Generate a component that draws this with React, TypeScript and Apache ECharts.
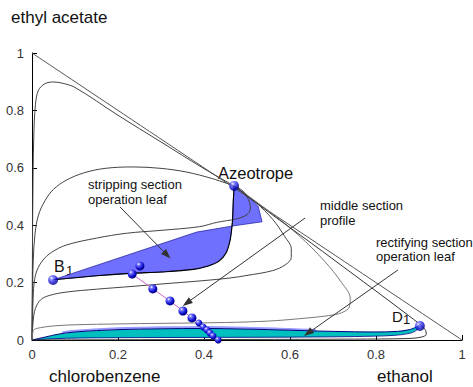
import React, { useEffect, useRef } from "react";
import * as echarts from "echarts";

const hypotenuse = [[0, 1], [1, 0]];

const curveTop = [[0.47,0.537],[0.4,0.597],[0.3,0.69],[0.2,0.783],[0.1,0.88],[0.07,0.895],[0.05,0.899],[0.03,0.893],[0.015,0.87],[0.008,0.82],[0.004,0.7],[0.002,0.5],[0.001,0.3],[0,0]];
const curveArc = [[0.47,0.537],[0.42,0.562],[0.36,0.585],[0.3,0.598],[0.235,0.603],[0.17,0.598],[0.12,0.582],[0.08,0.557],[0.05,0.525],[0.03,0.485],[0.015,0.435],[0.007,0.37],[0.003,0.28],[0.001,0.15],[0,0]];
const curveInner = [[0.47,0.537],[0.49,0.52],[0.503,0.49],[0.508,0.46],[0.5,0.437],[0.475,0.422],[0.43,0.41],[0.39,0.395],[0.3,0.382],[0.22,0.372],[0.15,0.355],[0.08,0.331],[0.045,0.305],[0.026,0.279],[0.012,0.244],[0.005,0.2],[0.002,0.12],[0,0]];
const curveMid = [[0.47,0.537],[0.52,0.48],[0.56,0.42],[0.588,0.36],[0.603,0.318],[0.603,0.288],[0.59,0.263],[0.56,0.242],[0.5,0.225],[0.46,0.216],[0.4,0.207],[0.3,0.195],[0.235,0.187],[0.15,0.177],[0.08,0.167],[0.04,0.155],[0.02,0.14],[0.008,0.11],[0.003,0.07],[0,0]];
const curveLow = [[0.47,0.537],[0.55,0.45],[0.62,0.365],[0.68,0.275],[0.72,0.2],[0.74,0.145],[0.738,0.115],[0.72,0.095],[0.69,0.085],[0.62,0.074],[0.55,0.066],[0.45,0.061],[0.3,0.058],[0.2,0.056],[0.1,0.053],[0.05,0.049],[0.02,0.043],[0.005,0.036],[0.001,0.02],[0,0]];
const curveOuter = [[0.47,0.537],[0.55,0.446],[0.65,0.337],[0.75,0.226],[0.83,0.137],[0.875,0.086],[0.9,0.057],[0.914,0.037],[0.917,0.02],[0.905,0.01],[0.87,0.005],[0.75,0.003],[0.5,0.002],[0.25,0.001],[0,0]];

const stripLeaf = [[0.47,0.537],[0.5,0.505],[0.526,0.465],[0.535,0.412],[0.47,0.398],[0.383,0.376],[0.05,0.21],[0.15,0.224],[0.235,0.233],[0.3,0.237],[0.375,0.246],[0.41,0.258],[0.435,0.275],[0.452,0.305],[0.461,0.35],[0.466,0.41],[0.468,0.48]];
const stripEdge = [[0.47,0.537],[0.468,0.48],[0.466,0.41],[0.461,0.35],[0.452,0.305],[0.435,0.275],[0.41,0.258],[0.375,0.246],[0.3,0.237],[0.235,0.233],[0.15,0.224],[0.05,0.21]];

const rectUpper = [[0,0],[0.03,0.01],[0.06,0.02],[0.1,0.028],[0.2,0.036],[0.3,0.039],[0.4,0.04],[0.5,0.038],[0.6,0.034],[0.7,0.03],[0.8,0.028],[0.85,0.03],[0.88,0.037],[0.9,0.05]];
const rectLower = [[0.9,0.05],[0.895,0.035],[0.88,0.024],[0.84,0.016],[0.75,0.012],[0.6,0.01],[0.4,0.009],[0.2,0.008],[0.08,0.006],[0.02,0.002],[0,0]];
const rectBandTop = [[0.07,0.026],[0.1,0.032],[0.2,0.041],[0.3,0.044],[0.4,0.045],[0.5,0.043],[0.6,0.038],[0.66,0.035]];

const middleProfile = [[0.251,0.258],[0.233,0.23],[0.281,0.178],[0.321,0.136],[0.351,0.101],[0.372,0.077],[0.388,0.059],[0.398,0.045],[0.407,0.035],[0.414,0.024],[0.421,0.014],[0.433,0.0]];
const keyPoints = [[0.049,0.209],[0.47,0.537],[0.902,0.049]];

const arrows = [
  [[0.205,0.463],[0.314,0.296]],
  [[0.635,0.425],[0.36,0.129]],
  [[0.851,0.244],[0.642,0.024]],
];

const FONT = "Liberation Sans, Arial, sans-serif";

function polygonSeries(points: number[][], fill: string, stroke: string, lw: number, z: number) {
  return {
    type: "custom",
    coordinateSystem: "cartesian2d",
    data: [points[0]],
    z,
    silent: true,
    renderItem: (params: any, api: any) => {
      const pts = points.map((p) => api.coord(p));
      return {
        type: "polygon",
        shape: { points: pts },
        style: { fill, stroke, lineWidth: lw },
      };
    },
  };
}

function curve(data: number[][], color = "#444", width = 1, z = 3) {
  return {
    type: "line",
    data,
    smooth: 0.35,
    showSymbol: false,
    symbol: "none",
    lineStyle: { color, width },
    z,
    silent: true,
  };
}

export default function App() {
  const ref = useRef<HTMLDivElement>(null);
  useEffect(() => {
    if (!ref.current) return;
    const chart = echarts.init(ref.current, undefined, { renderer: "svg" });
    const sphere = new echarts.graphic.RadialGradient(0.35, 0.3, 0.7, [
      { offset: 0, color: "#ffffff" },
      { offset: 0.25, color: "#7070ff" },
      { offset: 0.7, color: "#1010d0" },
      { offset: 1, color: "#000080" },
    ]);
    const axisCommon = {
      type: "value",
      min: 0,
      max: 1,
      interval: 0.2,
      axisLine: { show: true, lineStyle: { color: "#000", width: 1 } },
      axisTick: { show: true, inside: true, length: 5, lineStyle: { color: "#000" } },
      splitLine: { show: false },
      axisLabel: { fontSize: 13, color: "#333", fontFamily: FONT, margin: 8 },
    };
    const textStyle = (size: number) => ({ fontSize: size, fontFamily: FONT, fill: "#111" });
    chart.setOption({
      animation: false,
      grid: { left: 32, right: 11, top: 53, bottom: 47 },
      xAxis: { ...axisCommon },
      yAxis: { ...axisCommon },
      series: [
        polygonSeries(stripLeaf, "#7070ff", "#2828a8", 0.8, 2),
        polygonSeries([...rectUpper, ...rectLower], "#00bfbf", "none", 0, 2),
        curve(rectBandTop, "#9a9aff", 2, 2),
        curve(rectUpper, "#000080", 1, 3),
        curve(rectLower, "#000080", 0.8, 3),
        curve(hypotenuse, "#555", 1, 3),
        curve(curveTop),
        curve(curveArc),
        curve(curveInner),
        curve(curveMid),
        curve(curveLow, "#777"),
        curve(curveOuter, "#333"),
        curve(stripEdge, "#000", 1.1, 4),
        {
          type: "line",
          data: middleProfile,
          smooth: false,
          symbol: "circle",
          symbolSize: (v: any, p: any) => (p.dataIndex < 6 ? 9 : 7),
          lineStyle: { color: "#cc66cc", width: 1 },
          itemStyle: { color: sphere, borderWidth: 0 },
          z: 6,
          silent: true,
        },
        {
          type: "scatter",
          data: keyPoints,
          symbol: "circle",
          symbolSize: 10,
          itemStyle: { color: sphere },
          z: 7,
          silent: true,
        },
        {
          type: "line",
          data: [],
          silent: true,
          markLine: {
            silent: true,
            symbol: ["none", "triangle"],
            symbolSize: [7, 10],
            label: { show: false },
            lineStyle: { color: "#333", width: 1, type: "solid" },
            itemStyle: { color: "#000" },
            emphasis: { disabled: true },
            data: arrows.map((a) => [{ coord: a[0] }, { coord: a[1] }]),
          },
          z: 8,
        },
      ],
      graphic: [
        { type: "text", left: 11, top: 9, style: { text: "ethyl acetate", ...textStyle(17) } },
        { type: "text", left: 49, top: 368, style: { text: "chlorobenzene", ...textStyle(17) } },
        { type: "text", left: 377, top: 368, style: { text: "ethanol", ...textStyle(17) } },
        { type: "text", left: 218, top: 164, style: { text: "Azeotrope", ...textStyle(16.5) } },
        { type: "text", left: 88, top: 177, style: { text: "stripping section\noperation leaf", lineHeight: 15, ...textStyle(13) } },
        { type: "text", left: 320, top: 198, style: { text: "middle section\nprofile", lineHeight: 15, ...textStyle(13) } },
        { type: "text", left: 376, top: 235, style: { text: "rectifying section\noperation leaf", lineHeight: 14.5, ...textStyle(13) } },
        { type: "text", left: 54, top: 258, style: { text: "B", ...textStyle(16) } },
        { type: "text", left: 66, top: 264, style: { text: "1", ...textStyle(13) } },
        { type: "text", left: 392, top: 309, style: { text: "D", ...textStyle(15) } },
        { type: "text", left: 403, top: 313, style: { text: "1", ...textStyle(13) } },
      ],
    });
    return () => chart.dispose();
  }, []);
  return (
    <div
      ref={ref}
      style={{ position: "absolute", left: 0, top: 0, width: 473, height: 387, background: "#fff" }}
    />
  );
}
